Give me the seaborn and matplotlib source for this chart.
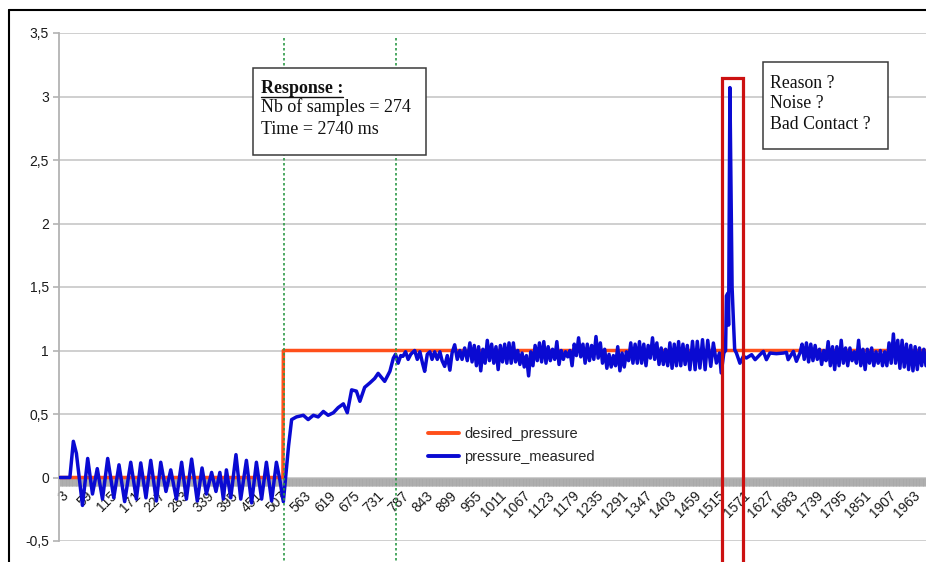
import numpy as np
import pandas as pd
import seaborn as sns
from matplotlib import pyplot as plt
from matplotlib.lines import Line2D
from matplotlib.patches import Rectangle
from matplotlib.ticker import FixedLocator, FuncFormatter

# desired pressure: step 0 -> 1 at the start of the response
desired_sample = [1, 514, 515, 1993]
desired_pressure = [0, 0, 1, 1]

# measured pressure (sample no., value)
startup_sample = [1, 24, 32, 39, 53, 65, 76, 87, 99, 111, 125, 137, 150, 164, 177,
                  187, 199, 210, 223, 233, 245, 256, 269, 281, 292, 304, 317, 328,
                  338, 350, 360, 369, 377, 384, 394, 406, 417, 430, 442, 453, 465,
                  476, 488, 499, 507, 515]
startup_pressure = [0, 0, 0.285, 0.19, -0.22, 0.15, -0.13, 0.07, -0.17, 0.15, -0.16,
                    0.10, -0.19, 0.12, -0.17, 0.115, -0.16, 0.135, -0.185, 0.12, -0.11,
                    0.06, -0.17, 0.12, -0.17, 0.145, -0.185, 0.075, -0.13, 0.04, -0.11,
                    0.04, -0.17, 0.06, -0.16, 0.18, -0.17, 0.135, -0.2, 0.12, -0.17,
                    0.12, -0.185, 0.12, -0.02, -0.19]

ramp_sample = [527, 534, 545, 561, 572, 584, 595, 607, 618, 630, 641, 653, 662, 672,
               683, 691, 702, 714, 725, 733, 748, 760, 768, 773, 779, 785, 790, 796,
               802, 808, 817, 823, 829, 835, 840, 846, 852, 857, 863, 869, 875, 880,
               886, 892, 898, 903, 909, 915, 921, 926, 932, 938]
ramp_pressure = [0.25, 0.456, 0.477, 0.49, 0.456, 0.49, 0.477, 0.52, 0.49, 0.51, 0.55,
                 0.58, 0.51, 0.69, 0.68, 0.60, 0.71, 0.745, 0.78, 0.82, 0.757, 0.836,
                 0.94, 0.97, 0.90, 0.96, 0.954, 0.99, 0.93, 0.97, 1.0, 0.93, 0.99, 0.90,
                 0.836, 0.97, 0.99, 0.93, 0.99, 0.93, 0.99, 0.92, 0.875, 0.96, 0.845,
                 0.98, 1.045, 0.93, 1.0, 0.93, 1.02, 0.92]

plateau_sample = list(range(944, 1445, 5))
plateau_pressure = [1.06, 0.91, 1.04, 0.88, 1.03, 0.84, 1.01, 0.90, 1.08, 0.92,
                    1.05, 0.90, 1.03, 0.85, 1.04, 0.91, 1.05, 0.90, 1.06, 0.90,
                    1.06, 0.91, 1.00, 0.89, 0.98, 0.87, 0.96, 0.80, 0.99, 0.88,
                    1.04, 0.92, 1.06, 0.91, 1.07, 0.90, 1.03, 0.92, 1.01, 0.93,
                    1.07, 0.89, 1.00, 0.93, 0.99, 0.95, 1.00, 0.88, 1.05, 0.96,
                    1.10, 0.95, 1.05, 0.90, 1.05, 0.92, 1.04, 0.93, 1.11, 0.94,
                    1.06, 0.90, 1.01, 0.86, 0.97, 0.87, 0.96, 0.88, 1.03, 0.84,
                    0.98, 0.87, 0.99, 0.92, 1.06, 0.90, 1.05, 0.90, 1.07, 0.90,
                    1.05, 0.88, 1.04, 0.94, 1.10, 0.93, 1.06, 0.89, 1.02, 0.89,
                    1.01, 0.88, 1.06, 0.86, 1.05, 0.88, 1.07, 0.88, 1.05, 0.89,
                    1.04]

spike_sample = [1450, 1456, 1462, 1467, 1473, 1479, 1485, 1491, 1498, 1504, 1511, 1518,
                1522, 1528, 1532, 1534, 1537, 1539, 1542, 1547, 1550, 1553, 1557, 1565,
                1573, 1580, 1592, 1600, 1611, 1619, 1626, 1634, 1649, 1665, 1672, 1676,
                1688, 1695, 1703]
spike_pressure = [0.849, 1.072, 0.849, 1.072, 0.862, 1.085, 0.849, 1.08, 0.875, 1.059,
                  0.901, 0.98, 0.823, 0.98, 1.0, 1.43, 1.45, 1.2, 3.07, 1.5, 1.24, 1.006,
                  0.98, 0.90, 0.954, 0.941, 0.967, 0.928, 0.967, 0.993, 0.928, 0.98,
                  0.975, 0.98, 0.985, 0.928, 0.993, 0.915, 0.98]

tail_sample = list(range(1708, 1994, 5))
tail_pressure = [1.05, 0.93, 1.06, 0.91, 1.05, 0.92, 1.04, 0.93, 1.01, 0.89,
                 1.00, 0.92, 1.07, 0.88, 1.03, 0.85, 1.03, 0.88, 1.08, 0.90,
                 1.02, 0.88, 1.02, 0.92, 0.99, 0.90, 1.08, 0.88, 1.01, 0.85,
                 1.01, 0.90, 1.02, 0.88, 0.99, 0.90, 1.00, 0.88, 0.99, 0.88,
                 1.06, 0.90, 1.13, 0.90, 1.08, 0.86, 1.08, 0.87, 1.05, 0.85,
                 1.04, 0.84, 1.03, 0.85, 1.02, 0.88, 1.01, 0.88]

x_tick_values = list(range(3, 1964, 56))
y_tick_values = [-0.5, 0, 0.5, 1, 1.5, 2, 2.5, 3, 3.5]

ORANGE = "#ff4f1a"
BLUE = "#0a0ad2"

measured_sample = startup_sample + ramp_sample + plateau_sample + spike_sample + tail_sample
measured_pressure = (startup_pressure + ramp_pressure + plateau_pressure
                     + spike_pressure + tail_pressure)

df = pd.concat([
    pd.DataFrame({"sample": desired_sample, "pressure": desired_pressure,
                  "series": "desired_pressure"}),
    pd.DataFrame({"sample": measured_sample, "pressure": measured_pressure,
                  "series": "pressure_measured"}),
])

W, H = 926, 562


def fx(px):
    return px / W


def fy(py):
    return 1 - py / H


sns.set_style("white")
plt.rcParams["font.family"] = ["Liberation Sans", "DejaVu Sans"]

fig = plt.figure(figsize=(W / 100, H / 100), dpi=100)
ax = fig.add_axes([fx(59), fy(541), 1 - fx(59), fy(33) - fy(541)])

sns.lineplot(data=df, x="sample", y="pressure", hue="series",
             hue_order=["desired_pressure", "pressure_measured"],
             palette=[ORANGE, BLUE], estimator=None, linewidth=2.5, zorder=3, ax=ax)

ax.set_xlim(-1, 1993)
ax.set_ylim(-0.5, 3.5)
ax.set_xlabel("")
ax.set_ylabel("")

# category axis sits on y = 0, one tick per sample (gives the grey band)
ax.spines["bottom"].set_position(("data", 0))
ax.spines["bottom"].set_color("#b3b3b3")
ax.spines["left"].set_color("#b3b3b3")
ax.spines["left"].set_linewidth(1.3)
ax.spines["top"].set_visible(False)
ax.spines["right"].set_visible(False)

ax.xaxis.set_minor_locator(FixedLocator(np.arange(1, 1994)))
ax.set_xticks(x_tick_values, labels=[str(v) for v in x_tick_values],
              rotation=45, ha="right", va="top", rotation_mode="anchor")
ax.tick_params(axis="x", which="both", bottom=True, direction="out", length=6,
               width=0.5, color="#a8a8a8", pad=2, labelsize=10, labelcolor="#1a1a1a")

ax.set_yticks(y_tick_values)
ax.yaxis.set_major_formatter(FuncFormatter(lambda v, p: f"{v:g}".replace(".", ",")))
ax.tick_params(axis="y", left=True, direction="out", length=4.3, width=1.2,
               color="#b3b3b3", pad=3, labelsize=10, labelcolor="#1a1a1a")
ax.grid(axis="y", color="#cccccc", linewidth=1.3)
ax.grid(axis="x", visible=False)
ax.set_axisbelow(True)

old = ax.get_legend()
handles = old.legend_handles
labels = [t.get_text() for t in old.get_texts()]
old.remove()
leg = ax.legend(handles, labels, loc="upper left", bbox_to_anchor=(fx(428), fy(427)),
                bbox_transform=fig.transFigure, frameon=False, fontsize=10.5,
                handlelength=2.1, handletextpad=0.4, labelspacing=0.6,
                borderpad=0, borderaxespad=0)
for h in leg.legend_handles:
    h.set_linewidth(2.8)

# annotations drawn on the screenshot
for gx in [284, 396]:
    fig.add_artist(Line2D([fx(gx), fx(gx)], [fy(38), fy(562)], transform=fig.transFigure,
                          color="#2e9a48", lw=1.2, linestyle=(0, (1.5, 1.5)), zorder=4))

fig.add_artist(Rectangle((fx(252.5), fy(155)), fx(426) - fx(252.5), fy(68) - fy(155),
                         transform=fig.transFigure, facecolor="white",
                         edgecolor="#3a3a3a", lw=1.1, zorder=5))
fig.add_artist(Rectangle((fx(762.5), fy(148.5)), fx(887.5) - fx(762.5),
                         fy(61.5) - fy(148.5), transform=fig.transFigure,
                         facecolor="white", edgecolor="#3a3a3a", lw=1.1, zorder=5))

serif = ["Liberation Serif", "DejaVu Serif"]
title = fig.text(fx(261), fy(93), "Response :", family=serif, fontsize=13,
                 fontweight="bold", va="baseline", ha="left", zorder=6, color="#111111")
fig.text(fx(261), fy(112), "Nb of samples = 274", family=serif, fontsize=13,
         va="baseline", ha="left", zorder=6, color="#111111")
fig.text(fx(261), fy(133.5), "Time = 2740 ms", family=serif, fontsize=13,
         va="baseline", ha="left", zorder=6, color="#111111")

for text, base in [("Reason ?", 88), ("Noise ?", 107.5), ("Bad Contact ?", 128.5)]:
    fig.text(fx(770.5), fy(base), text, family=serif, fontsize=12.8,
             va="baseline", ha="left", zorder=6, color="#111111")

fig.canvas.draw()
bb = title.get_window_extent()
fig.add_artist(Line2D([bb.x0 / W, bb.x1 / W], [fy(96.5), fy(96.5)],
                      transform=fig.transFigure, color="#111111", lw=1.0, zorder=6))

fig.add_artist(Rectangle((fx(722), fy(566)), fx(743) - fx(722), fy(78) - fy(566),
                         transform=fig.transFigure, fill=False, edgecolor="#cc1111",
                         lw=2.3, zorder=7))

# black frame of the screenshot
fig.add_artist(Line2D([fx(9), 1.0], [fy(9.5), fy(9.5)], transform=fig.transFigure,
                      color="black", lw=1.5, zorder=8))
fig.add_artist(Line2D([fx(9), fx(9)], [fy(9.5), 0.0], transform=fig.transFigure,
                      color="black", lw=1.5, zorder=8))

fig.savefig("out.png", dpi=100)
